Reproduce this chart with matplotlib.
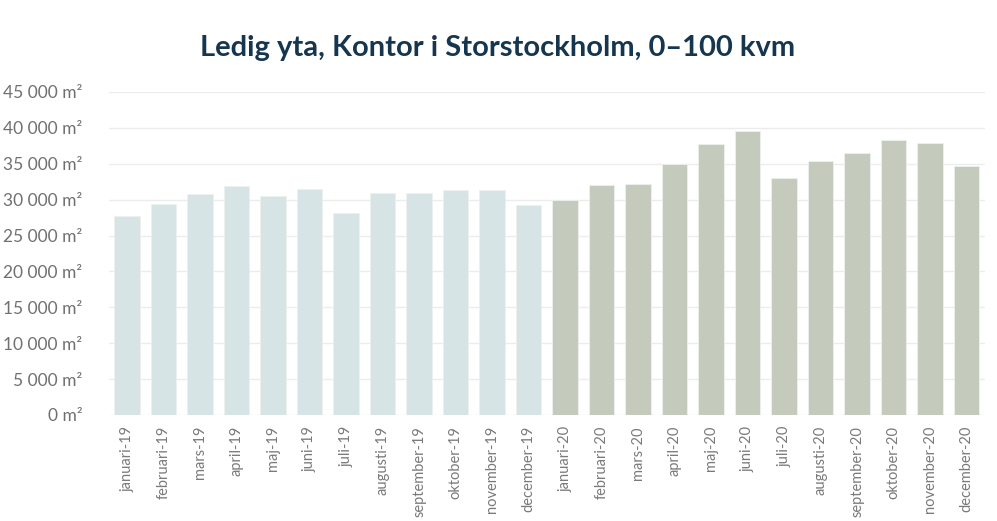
import matplotlib.pyplot as plt
from matplotlib.ticker import FuncFormatter

# --- data ---
months = ['januari', 'februari', 'mars', 'april', 'maj', 'juni', 'juli',
          'augusti', 'september', 'oktober', 'november', 'december']
labels = [f'{m}-19' for m in months] + [f'{m}-20' for m in months]
area_2019 = [27700, 29400, 30800, 31900, 30550, 31550, 28100,
             30900, 30900, 31300, 31300, 29250]
area_2020 = [29900, 32050, 32200, 35000, 37700, 39500, 32950,
             35400, 36450, 38350, 37850, 34750]

color_19 = '#d6e4e5'
color_20 = '#c5cbbc'

fig = plt.figure(figsize=(9.97, 5.21), dpi=100)
ax = fig.add_axes([0.1093, 0.2035, 0.8786, 0.62])

values = area_2019 + area_2020
colors = [color_19] * len(area_2019) + [color_20] * len(area_2020)
x = list(range(len(values)))
ax.bar(x, values, width=0.70, color=colors, edgecolor='#eef2ee',
       linewidth=0.6, zorder=3)

ax.set_xlim(-0.5, len(values) - 0.5)
ax.set_ylim(0, 45000)
ax.set_yticks(range(0, 45001, 5000))
ax.yaxis.set_major_formatter(FuncFormatter(
    lambda v, p: f'{int(v):,}'.replace(',', ' ') + ' m²'))
ax.grid(axis='y', color='#ececec', linewidth=1.0, zorder=0)

ax.set_xticks(x)
ax.set_xticklabels(labels, rotation=90, fontsize=10.5, color='#7a7a7a',
                   family=['Lato', 'DejaVu Sans'])
for t in ax.get_yticklabels():
    t.set_fontsize(12.5)
    t.set_color('#707070')
    t.set_family(['Lato', 'DejaVu Sans'])

ax.tick_params(axis='both', length=0)
ax.tick_params(axis='y', pad=19)
ax.tick_params(axis='x', pad=8)
for s in ax.spines.values():
    s.set_visible(False)

fig.text(0.499, 0.908, 'Ledig yta, Kontor i Storstockholm, 0–100 kvm',
         ha='center', va='center', fontsize=21, fontweight='bold',
         color='#163650', family=['Lato', 'DejaVu Sans'])

fig.savefig('out.png', dpi=100)
